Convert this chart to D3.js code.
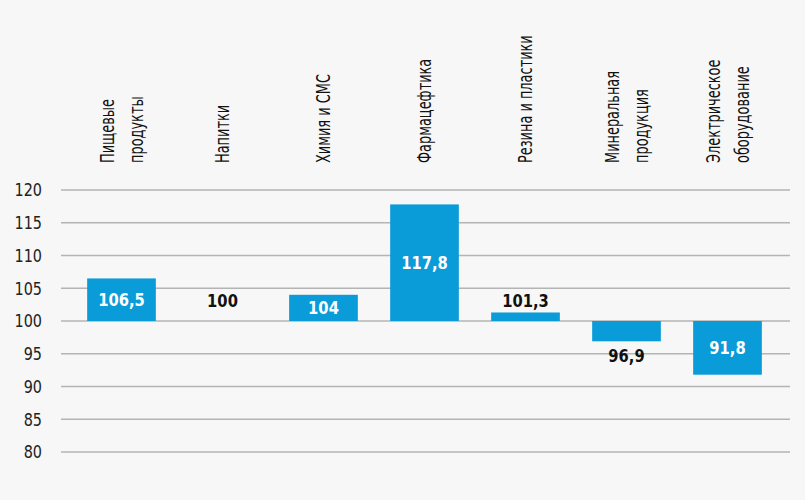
<!DOCTYPE html>
<html>
<head>
<meta charset="utf-8">
<script src="https://cdn.jsdelivr.net/npm/d3@7"></script>
<style>
body { margin: 0; background: #f7f7f7; }
svg { display: block; }
text { font-family: "DejaVu Sans", sans-serif; }
</style>
</head>
<body>
<svg id="chart" width="805" height="500"></svg>
<script>
var categories = [
	["Пищевые", "продукты"],
	["Напитки"],
	["Химия и СМС"],
	["Фармацефтика"],
	["Резина и пластики"],
	["Минеральная", "продукция"],
	["Электрическое", "оборудование"]
];
var values = [106.5, 100, 104, 117.8, 101.3, 96.9, 91.8];
var valueLabels = ["106,5", "100", "104", "117,8", "101,3", "96,9", "91,8"];
var ticks = [80, 85, 90, 95, 100, 105, 110, 115, 120];

var svg = d3.select("#chart");
var blue = "#0a9bd9";
var narrow = 0.8; // no condensed font installed, squeeze horizontally

var x = d3.scaleBand().domain(d3.range(values.length)).range([71, 778])
	.paddingInner(0.32).paddingOuter(0.16);
var y = d3.scaleLinear().domain([80, 120]).range([452, 190]);

// gridlines
svg.selectAll("line.grid").data(ticks).enter().append("line")
	.attr("x1", 61).attr("x2", 790)
	.attr("y1", function(d){ return y(d); }).attr("y2", function(d){ return y(d); })
	.attr("stroke", "#b4b4b4").attr("stroke-width", 1.5);

// tick labels
svg.selectAll("text.tick").data(ticks).enter().append("text")
	.attr("transform", function(d){ return "translate(42," + y(d) + ") scale(" + narrow + ",1)"; })
	.attr("dy", "0.35em")
	.attr("text-anchor", "end").attr("font-size", 18).attr("fill", "#222")
	.text(function(d){ return d; });

// bars
svg.selectAll("rect.bar").data(values).enter().append("rect")
	.attr("x", function(d, i){ return x(i); })
	.attr("width", x.bandwidth())
	.attr("y", function(d){ return y(Math.max(d, 100)); })
	.attr("height", function(d){ return Math.abs(y(d) - y(100)); })
	.attr("fill", blue);

// value labels
svg.selectAll("text.val").data(values).enter().append("text")
	.attr("transform", function(d, i){
		var h = Math.abs(d - 100), ly;
		if (h >= 4) ly = (y(d) + y(100)) / 2;
		else if (d >= 100) ly = y(Math.max(d, 100)) - 12 + (d == 100 ? -8 : 0);
		else ly = y(d) + 14;
		return "translate(" + (x(i) + x.bandwidth() / 2) + "," + ly + ") scale(0.82,1)";
	})
	.attr("dy", "0.35em").attr("text-anchor", "middle")
	.attr("font-size", 18).attr("font-weight", "bold")
	.attr("fill", function(d){ return Math.abs(d - 100) >= 4 ? "#fff" : "#111"; })
	.text(function(d, i){ return valueLabels[i]; });

// category labels (rotated)
categories.forEach(function(lines, i){
	var cx = x(i) + x.bandwidth() / 2;
	lines.forEach(function(line, j){
		var off = (j - (lines.length - 1) / 2) * 29;
		svg.append("text")
			.attr("transform", "translate(" + (cx + off) + ",163) rotate(-90) scale(0.68,1)")
			.attr("dy", "0.35em")
			.attr("font-size", 19).attr("fill", "#111")
			.text(line);
	});
});
</script>
</body>
</html>
